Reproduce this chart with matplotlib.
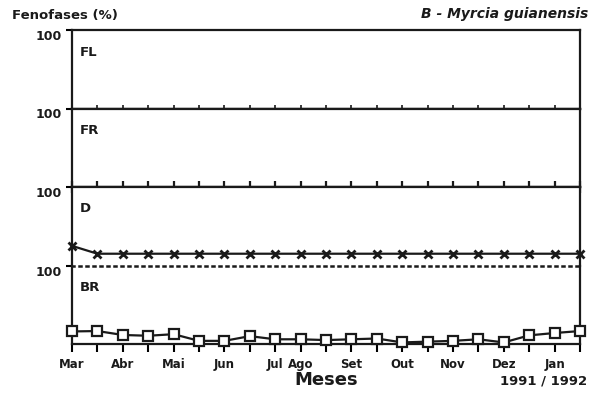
import matplotlib
matplotlib.use('Agg')
import matplotlib.pyplot as plt

plt.rcParams['font.family'] = ['DejaVu Sans']
plt.rcParams['font.weight'] = 'bold'

# ---- data ----
month_labels = ['Mar', 'Abr', 'Mai', 'Jun', 'Jul', 'Ago', 'Set', 'Out', 'Nov', 'Dez', 'Jan']
month_positions = [0, 2, 4, 6, 8, 9, 11, 13, 15, 17, 19]
x_points = [0, 1, 2, 3, 4, 5, 6, 7, 8, 9, 10, 11, 12, 13, 14, 15, 16, 17, 18, 19, 20]

fl = [0, 0, 0, 0, 0, 0, 0, 0, 0, 0, 0, 0, 0, 0, 0, 0, 0, 0, 0, 0, 0]
fr = [0, 0, 0, 0, 0, 0, 0, 0, 0, 0, 0, 0, 0, 0, 0, 0, 0, 0, 0, 0, 0]
d = [25, 15, 15, 15, 15, 15, 15, 15, 15, 15, 15, 15, 15, 15, 15, 15, 15, 15, 15, 15, 15]
br = [16, 16.5, 11.5, 10.5, 12.5, 4, 4, 10, 6, 6, 5, 6, 7, 2, 3, 4, 6, 2, 11, 14, 16.5]

panel_names = ['FL', 'FR', 'D', 'BR']

ink = '#1a1a1a'
fig = plt.figure(figsize=(5.96, 4.01), dpi=100)
axes = fig.subplots(4, 1, sharex=True, gridspec_kw=dict(hspace=0))
fig.subplots_adjust(left=72/596, right=580/596, top=1-30/401, bottom=1-344/401)

for ax, name in zip(axes, panel_names):
    ax.set_ylim(0, 100)
    ax.set_xlim(0, 20)
    for sp in ax.spines.values():
        sp.set_linewidth(1.6)
        sp.set_color(ink)
    ax.set_yticks([100], labels=['100'], va='top', fontsize=9, fontweight='bold', color=ink)
    ax.tick_params(axis='y', direction='out', length=4, width=1.5, pad=3)
    ax.tick_params(axis='x', length=0)
    ax.annotate(name, xy=(0, 1), xycoords='axes fraction', xytext=(8, -22),
                textcoords='offset pixels', ha='left', va='center',
                fontsize=9.5, fontweight='bold', color=ink)

ax_fl, ax_fr, ax_d, ax_br = axes

ax_fl.plot(x_points, fl, color=ink, lw=1.6, marker=2, ms=3, mew=1.2, clip_on=False, zorder=5)
ax_fr.plot(x_points, fr, color=ink, lw=1.6, marker='|', ms=8, mew=1.6, clip_on=False, zorder=5)
ax_d.plot(x_points, d, color=ink, lw=1.6, marker='x', ms=6, mew=2, clip_on=False, zorder=5)
ax_br.plot(x_points, br, color=ink, lw=1.6, marker='s', ms=6.5, mew=1.6,
           markerfacecolor='white', clip_on=False, zorder=5)

ax_d.spines['bottom'].set_visible(False)
ax_br.spines['top'].set_linewidth(1.8)
ax_br.spines['top'].set_linestyle((0, (0.8, 2.0)))

tick_labels = []
for i in x_points:
    tick_labels.append(month_labels[month_positions.index(i)] if i in month_positions else '')
ax_br.set_xticks(x_points, labels=tick_labels, fontsize=8.5, fontweight='bold', color=ink)
ax_br.tick_params(axis='x', direction='out', length=6, width=1.5, pad=4)

fig.text(12/596, 1-15/401, 'Fenofases (%)', ha='left', va='center', fontsize=9.5, fontweight='bold', color=ink)
fig.text(588/596, 1-14/401, 'B - Myrcia guianensis', ha='right', va='center', fontsize=10,
         fontweight='bold', style='italic', color=ink)
fig.text(326/596, 1-380/401, 'Meses', ha='center', va='center', fontsize=13, fontweight='bold', color=ink)
fig.text(587/596, 1-381/401, '1991 / 1992', ha='right', va='center', fontsize=9.5, fontweight='bold', color=ink)

fig.savefig('out.png', dpi=100)
